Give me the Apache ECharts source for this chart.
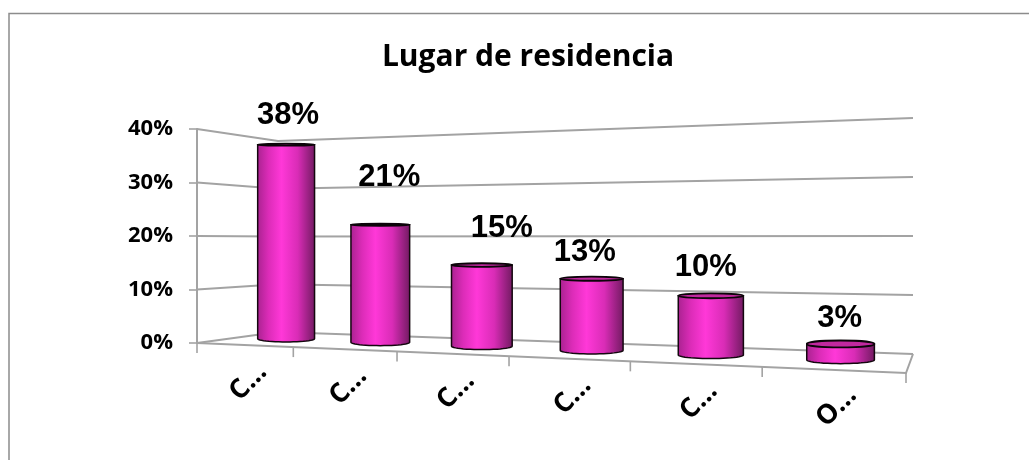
<!DOCTYPE html>
<html>
<head>
<meta charset="utf-8">
<script src="https://cdn.jsdelivr.net/npm/echarts@6/dist/echarts.min.js"></script>
<style>
  html, body { margin: 0; background: #fff; }
  #chart { width: 1029px; height: 460px; }
</style>
</head>
<body>
<div id="chart"></div>
<script>
const titleText = 'Lugar de residencia'
const categories = ['C...', 'C...', 'C...', 'C...', 'C...', 'O...']
// bar heights, the printed labels are the original's own
const shares = [37.9, 22.2, 14.8, 12.6, 10, 2.6]
const shareLabels = ['38%', '21%', '15%', '13%', '10%', '3%']
const yTicks = [0, 10, 20, 30, 40]

// perspective of the 3D floor, the front left corner is the grid's own corner
const frontRight = [906, 373]
const backRight = [913, 354]
const backLeft = [278, 332]
const wallHeight = { frontRight: 270, backLeft: 191, backRight: 236 }
const warp = -0.214
const barDepth = 0.55

// hand placed data labels, same as in the original
const labelNudge = [[2, -29], [9, -47], [20, -37], [-7, -26], [-5, -28], [-1, -25]]

const GREY = '#a3a3a3'
const lerp = (a, b, k) => a + (b - a) * k

function project(cs, u, depth, frac) {
  const t = u * (1 + warp) / (1 + warp * u)
  const left = cs.x
  const bottom = cs.y + cs.height
  const fx = lerp(left, frontRight[0], t)
  const fy = lerp(bottom, frontRight[1], t)
  const bx = lerp(backLeft[0], backRight[0], t)
  const by = lerp(backLeft[1], backRight[1], t)
  const h = lerp(
    lerp(cs.height, wallHeight.frontRight, t),
    lerp(wallHeight.backLeft, wallHeight.backRight, t),
    depth
  )
  const y0 = lerp(fy, by, depth)
  return { x: lerp(fx, bx, depth), y: y0 - frac * h, y0, t }
}

function toUnit(cs, pt) {
  return { u: (pt[0] - cs.x) / cs.width, frac: (cs.y + cs.height - pt[1]) / cs.height }
}

function ellipseRy(y) {
  return Math.max(1, (y - 180) / 48)
}

// walls: one polyline per value tick
function renderWall(params, api) {
  const cs = params.coordSys
  const { frac } = toUnit(cs, api.coord([0, api.value(1)]))
  const a = project(cs, 0, 0, frac)
  const b = project(cs, 0, 1, frac)
  const c = project(cs, 1, 1, frac)
  const style = { stroke: GREY, lineWidth: 2, fill: null }
  const children = [{
    type: 'polyline',
    shape: { points: [[a.x, a.y], [b.x, b.y], [c.x, c.y]] },
    style
  }]
  if (api.value(1) === 0) {
    const d = project(cs, 1, 0, 0)
    children.push({
      type: 'polyline',
      shape: { points: [[a.x, a.y], [d.x, d.y], [c.x, c.y]] },
      style
    })
  }
  return { type: 'group', children }
}

// ticks under the front edge of the floor
function renderFloorTick(params, api) {
  const cs = params.coordSys
  const p = project(cs, api.value(0) / categories.length, 0, 0)
  return {
    type: 'line',
    shape: { x1: p.x, y1: p.y, x2: p.x, y2: p.y + 10 },
    style: { stroke: GREY, lineWidth: 1.6 }
  }
}

function renderCylinder(params, api) {
  const cs = params.coordSys
  const i = api.value(0)
  const { u, frac } = toUnit(cs, api.coord([i, api.value(1)]))
  const p = project(cs, u, barDepth, frac)
  const r = lerp(28, 34.5, p.t)
  const ryTop = ellipseRy(p.y)
  const ryBottom = ellipseRy(p.y0)

  const outline = [[p.x - r, p.y]]
  for (let k = 0; k <= 24; k++) {
    const a = Math.PI * k / 24
    outline.push([p.x - r * Math.cos(a), p.y0 + ryBottom * Math.sin(a)])
  }
  outline.push([p.x + r, p.y])

  const edge = project(cs, u, 0, 0)

  return {
    type: 'group',
    children: [
      {
        type: 'polygon',
        shape: { points: outline },
        style: {
          stroke: '#14070f',
          lineWidth: 1.5,
          fill: {
            type: 'linear', x: 0, y: 0, x2: 1, y2: 0,
            colorStops: [
              { offset: 0, color: '#a8228f' },
              { offset: 0.2, color: '#dc2cb8' },
              { offset: 0.42, color: '#ff38d8' },
              { offset: 0.7, color: '#d92cb6' },
              { offset: 1, color: '#701a60' }
            ]
          }
        }
      },
      {
        type: 'ellipse',
        shape: { cx: p.x, cy: p.y, rx: r, ry: ryTop },
        style: { fill: '#c1289f', stroke: '#0c0409', lineWidth: 1.8 }
      },
      {
        type: 'text',
        x: p.x + labelNudge[i][0],
        y: p.y + labelNudge[i][1],
        style: {
          text: shareLabels[i],
          align: 'center',
          verticalAlign: 'middle',
          font: 'bold 31px "Liberation Sans"',
          fill: '#000'
        }
      },
      {
        type: 'text',
        x: edge.x + 4,
        y: edge.y + 37,
        rotation: Math.PI / 4,
        style: {
          text: categories[i],
          align: 'center',
          verticalAlign: 'middle',
          font: 'bold 27px "Open Sans"',
          fill: '#000'
        }
      }
    ]
  }
}

const chart = echarts.init(document.getElementById('chart'))

chart.setOption({
  animation: false,
  backgroundColor: '#fff',
  title: {
    text: titleText,
    left: 523,
    top: 37,
    textAlign: 'center',
    textStyle: { fontFamily: 'Open Sans', fontWeight: 'bold', fontSize: 30, color: '#000' }
  },
  graphic: [
    {
      type: 'polyline',
      shape: { points: [[9, 470], [9, 13.5], [1040, 13.5]] },
      style: { stroke: '#8c8c8c', lineWidth: 1.5, fill: null },
      silent: true
    }
  ],
  grid: { left: 197, top: 129, width: 709, height: 214 },
  xAxis: {
    type: 'category',
    data: categories,
    show: false
  },
  yAxis: {
    type: 'value',
    min: 0,
    max: 40,
    interval: 10,
    splitLine: { show: false },
    axisLine: { show: true, lineStyle: { color: GREY, width: 2 } },
    axisTick: { show: true, length: 8, lineStyle: { color: GREY, width: 1.6 } },
    axisLabel: {
      margin: 24,
      formatter: '{value}%',
      fontFamily: 'Open Sans',
      fontWeight: 'bold',
      fontSize: 22,
      color: '#000'
    }
  },
  series: [
    {
      type: 'custom',
      name: 'walls',
      renderItem: renderWall,
      silent: true,
      z: 1,
      clip: false,
      data: yTicks.map(v => [0, v])
    },
    {
      type: 'custom',
      name: 'floor ticks',
      renderItem: renderFloorTick,
      silent: true,
      z: 1,
      clip: false,
      encode: { x: -1, y: -1 },
      data: [...categories.map((c, i) => [i]), [categories.length]]
    },
    {
      type: 'custom',
      name: 'Lugar de residencia',
      renderItem: renderCylinder,
      z: 3,
      clip: false,
      data: shares.map((v, i) => [i, v])
    }
  ]
})

window.addEventListener('resize', () => chart.resize())
</script>
</body>
</html>
